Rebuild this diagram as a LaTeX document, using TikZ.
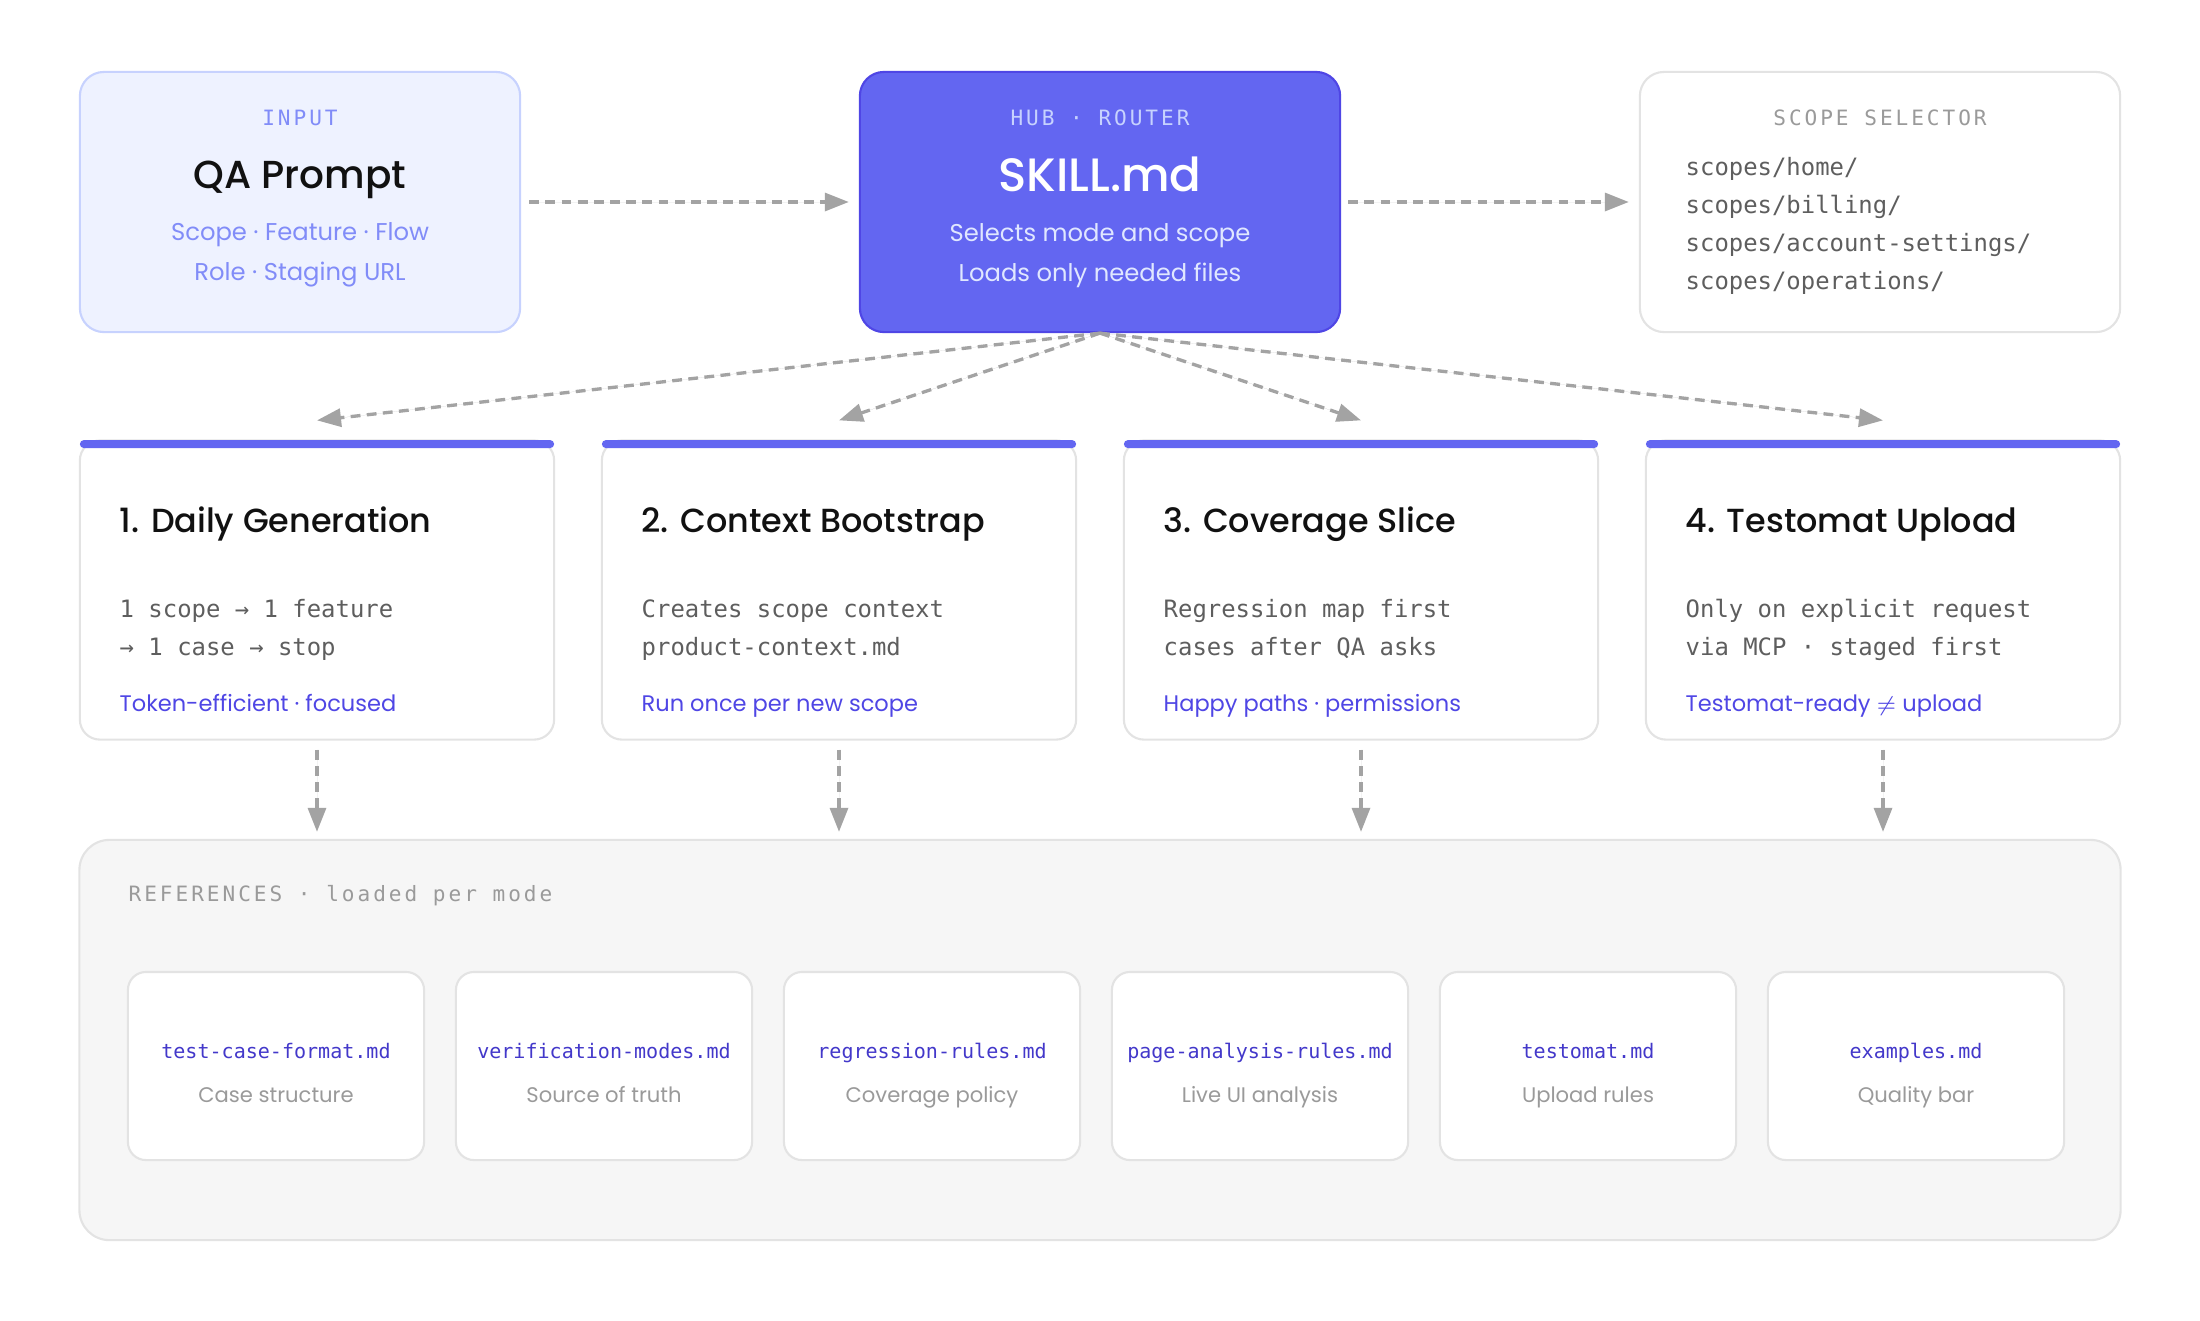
\documentclass[tikz,border=0pt]{standalone}
\usepackage{fontspec}
\setmainfont{Poppins}
\setmonofont{DejaVu Sans Mono}
\newfontfamily\tagfont[LetterSpace=14]{DejaVu Sans Mono}
\IfFontExistsTF{Poppins Medium}{\newfontfamily\medfont{Poppins Medium}}{\newfontfamily\medfont[FakeBold=0.4]{Poppins}}
\usetikzlibrary{arrows.meta,calc}

\definecolor{hubblue}{HTML}{6366F1}
\definecolor{hubedge}{HTML}{4F46E5}
\definecolor{hubsub}{HTML}{E0E7FF}
\definecolor{inputfill}{HTML}{EEF2FF}
\definecolor{inputedge}{HTML}{C7D2FE}
\definecolor{inputtext}{HTML}{818CF8}
\definecolor{linkblue}{HTML}{4F46E5}
\definecolor{filetext}{HTML}{4338CA}
\definecolor{edgegray}{HTML}{E3E3E3}
\definecolor{arrowgray}{HTML}{A3A3A3}
\definecolor{reffill}{HTML}{F6F6F6}
\definecolor{monotext}{HTML}{5E5E5E}
\definecolor{tagtext}{HTML}{9A9A9A}
\definecolor{titletext}{HTML}{111111}

\tikzset{
  panel/.style={rounded corners=0.24cm, line width=0.6pt, inner sep=0pt,
    minimum width=4.8cm, minimum height=2.6cm},
  card/.style={draw=edgegray, fill=white, rounded corners=0.2cm, line width=0.6pt,
    inner sep=0pt, minimum width=4.74cm, minimum height=2.99cm},
  cardbar/.style={fill=hubblue, rounded corners=0.04cm, inner sep=0pt,
    minimum width=4.74cm, minimum height=0.08cm, anchor=north},
  filebox/.style={draw=edgegray, fill=white, rounded corners=0.18cm, line width=0.6pt,
    inner sep=0pt, minimum width=2.96cm, minimum height=1.88cm},
  tag/.style={font=\tagfont\fontsize{6}{7}\selectfont, anchor=base, inner sep=0pt},
  bigtitle/.style={font=\medfont\fontsize{11.1}{13}\selectfont, anchor=base, inner sep=0pt},
  subline/.style={font=\fontsize{6.9}{8}\selectfont, anchor=base, inner sep=0pt},
  cardtitle/.style={font=\medfont\fontsize{9.5}{11}\selectfont, text=titletext, anchor=base west, inner sep=0pt},
  monoline/.style={font=\ttfamily\fontsize{6.8}{8}\selectfont, text=monotext, anchor=base west, inner sep=0pt},
  cardnote/.style={font=\fontsize{6.4}{8}\selectfont, text=linkblue, anchor=base west, inner sep=0pt},
  filename/.style={font=\ttfamily\fontsize{5.7}{7}\selectfont, text=filetext, anchor=base, inner sep=0pt},
  filedesc/.style={font=\fontsize{6}{7}\selectfont, text=tagtext, anchor=base, inner sep=0pt},
  flow/.style={->, draw=arrowgray, fill=arrowgray, line width=0.95pt, dash pattern=on 2.8pt off 1.8pt},
}

\begin{document}
\begin{tikzpicture}[x=0.01cm, y=-0.01cm, >={Triangle[length=0.24cm, width=0.18cm]}]
    \useasboundingbox (0,0) rectangle (2200,1320);

    % Draw Input
    \node[panel, draw=inputedge, fill=inputfill, minimum width=4.4cm] (in) at (300,202) {};
    \node[tag, text=inputtext] (intag) at (300,125) {INPUT};
    \node[bigtitle, text=titletext] (intitle) at (300,188) {QA Prompt};
    \node[subline, text=inputtext] (insub1) at (300,240) {Scope · Feature · Flow};
    \node[subline, text=inputtext] (insub2) at (300,280) {Role · Staging URL};

    % Draw Hub
    \node[panel, draw=hubedge, fill=hubblue] (hub) at (1100,202) {};
    \node[tag, text=inputedge] (hubtag) at (1100,125) {HUB · ROUTER};
    \node[bigtitle, text=white, font=\medfont\fontsize{13.3}{15}\selectfont] (hubtitle) at (1100,191) {SKILL.md};
    \node[subline, text=hubsub] (hubsub1) at (1100,241) {Selects mode and scope};
    \node[subline, text=hubsub] (hubsub2) at (1100,281) {Loads only needed files};

    % Draw Scope Selector
    \node[panel, draw=edgegray, fill=white] (scope) at (1880,202) {};
    \node[tag, text=tagtext] (scopetag) at (1880,125) {SCOPE SELECTOR};
    \node[monoline] (scope1) at (1685,175) {scopes/home/};
    \node[monoline] (scope2) at (1685,213) {scopes/billing/};
    \node[monoline] (scope3) at (1685,251) {scopes/account-settings/};
    \node[monoline] (scope4) at (1685,289) {scopes/operations/};

    % Draw Modes
    \node[card] (m1) at (317,590) {};
    \node[cardbar] (m1bar) at (m1.north) {};
    \node[cardtitle] (m1title) at (119,532) {1. Daily Generation};
    \node[monoline] (m1a) at (119,617) {1 scope → 1 feature};
    \node[monoline] (m1b) at (119,655) {→ 1 case → stop};
    \node[cardnote] (m1note) at (119,711) {Token-efficient · focused};

    \node[card] (m2) at (839,590) {};
    \node[cardbar] (m2bar) at (m2.north) {};
    \node[cardtitle] (m2title) at (641,532) {2. Context Bootstrap};
    \node[monoline] (m2a) at (641,617) {Creates scope context};
    \node[monoline] (m2b) at (641,655) {product-context.md};
    \node[cardnote] (m2note) at (641,711) {Run once per new scope};

    \node[card] (m3) at (1361,590) {};
    \node[cardbar] (m3bar) at (m3.north) {};
    \node[cardtitle] (m3title) at (1163,532) {3. Coverage Slice};
    \node[monoline] (m3a) at (1163,617) {Regression map first};
    \node[monoline] (m3b) at (1163,655) {cases after QA asks};
    \node[cardnote] (m3note) at (1163,711) {Happy paths · permissions};

    \node[card] (m4) at (1883,590) {};
    \node[cardbar] (m4bar) at (m4.north) {};
    \node[cardtitle] (m4title) at (1685,532) {4. Testomat Upload};
    \node[monoline] (m4a) at (1685,617) {Only on explicit request};
    \node[monoline] (m4b) at (1685,655) {via MCP · staged first};
    \node[cardnote] (m4note) at (1685,711) {Testomat-ready $\neq$ upload};

    % Draw References
    \node[draw=edgegray, fill=reffill, rounded corners=0.3cm, line width=0.6pt, inner sep=0pt,
      minimum width=20.4cm, minimum height=4cm] (refs) at (1100,1040) {};
    \node[tag, text=tagtext, anchor=base west] (refstag) at (128,901) {REFERENCES · loaded per mode};

    \node[filebox] (f1) at (276,1066) {};
    \node[filename] (f1name) at (276,1058) {test-case-format.md};
    \node[filedesc] (f1desc) at (276,1102) {Case structure};
    \node[filebox] (f2) at (604,1066) {};
    \node[filename] (f2name) at (604,1058) {verification-modes.md};
    \node[filedesc] (f2desc) at (604,1102) {Source of truth};
    \node[filebox] (f3) at (932,1066) {};
    \node[filename] (f3name) at (932,1058) {regression-rules.md};
    \node[filedesc] (f3desc) at (932,1102) {Coverage policy};
    \node[filebox] (f4) at (1260,1066) {};
    \node[filename] (f4name) at (1260,1058) {page-analysis-rules.md};
    \node[filedesc] (f4desc) at (1260,1102) {Live UI analysis};
    \node[filebox] (f5) at (1588,1066) {};
    \node[filename] (f5name) at (1588,1058) {testomat.md};
    \node[filedesc] (f5desc) at (1588,1102) {Upload rules};
    \node[filebox] (f6) at (1916,1066) {};
    \node[filename] (f6name) at (1916,1058) {examples.md};
    \node[filedesc] (f6desc) at (1916,1102) {Quality bar};

    % Draw Connectors
    \draw[flow, shorten <=0.08cm, shorten >=0.1cm] (in.east) -- (hub.west);
    \draw[flow, shorten <=0.07cm, shorten >=0.1cm] (hub.east) -- (scope.west);
    \draw[flow] (hub.south) -- ($(m1.north)+(0,-19)$);
    \draw[flow] (hub.south) -- ($(m2.north)+(0,-19)$);
    \draw[flow] (hub.south) -- ($(m3.north)+(0,-19)$);
    \draw[flow] (hub.south) -- ($(m4.north)+(0,-19)$);
    \draw[flow, shorten <=0.09cm, shorten >=0.07cm] (m1.south) -- (m1.south |- refs.north);
    \draw[flow, shorten <=0.09cm, shorten >=0.07cm] (m2.south) -- (m2.south |- refs.north);
    \draw[flow, shorten <=0.09cm, shorten >=0.07cm] (m3.south) -- (m3.south |- refs.north);
    \draw[flow, shorten <=0.09cm, shorten >=0.07cm] (m4.south) -- (m4.south |- refs.north);
\end{tikzpicture}
\end{document}
